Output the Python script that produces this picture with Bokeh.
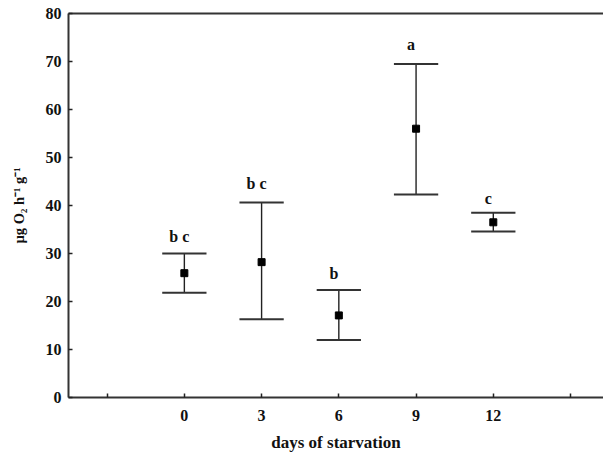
from bokeh.plotting import figure
from bokeh.models import (ColumnDataSource, FixedTicker, LinearAxis, Range1d)
from bokeh.core.properties import value
from bokeh.embed import file_html
from bokeh.resources import INLINE

# data
days = [0, 3, 6, 9, 12]
means = [25.9, 28.2, 17.1, 56.0, 36.5]
upper = [30.0, 40.6, 22.4, 69.5, 38.5]
lower = [21.8, 16.3, 12.0, 42.3, 34.6]
letters = ["b c", "b c", "b", "a", "c"]
letter_y = [33.6, 44.5, 25.9, 73.6, 41.5]
x_ticks = [-3, 0, 3, 6, 9, 12, 15]
y_ticks = [0, 10, 20, 30, 40, 50, 60, 70, 80]

FONT = "Liberation Serif"
cap_half = 0.86

src = ColumnDataSource(dict(
    x=days, m=means, up=upper, lo=lower,
    cx0=[d - cap_half for d in days], cx1=[d + cap_half for d in days],
    lab=letters, ly=letter_y,
))

p = figure(width=603, height=457, output_backend="svg", toolbar_location=None,
           x_range=Range1d(-4.5, 16.28), y_range=Range1d(0, 80),
           min_border_left=68, min_border_right=0, min_border_top=13,
           min_border_bottom=60)
p.outline_line_color = None
p.grid.visible = False
p.background_fill_color = "white"

# error bars
p.segment(x0="x", y0="lo", x1="x", y1="up", source=src,
          line_color="#222222", line_width=1.4)
p.segment(x0="cx0", y0="up", x1="cx1", y1="up", source=src,
          line_color="#333333", line_width=2)
p.segment(x0="cx0", y0="lo", x1="cx1", y1="lo", source=src,
          line_color="#333333", line_width=2)
p.scatter(x="x", y="m", source=src, marker="square", size=7,
          fill_color="black", line_color="black")

p.text(x="x", y="ly", text="lab", source=src, text_align="center",
       text_baseline="alphabetic", x_offset=-5,
       text_font=value(FONT), text_font_style="bold",
       text_font_size="16px", text_color="#111111")

# axes
for ax in (p.xaxis[0], p.yaxis[0]):
    ax.axis_line_width = 2
    ax.axis_line_color = "#333333"
    ax.major_tick_in = 4
    ax.major_tick_out = 0
    ax.major_tick_line_color = "#222222"
    ax.major_tick_line_width = 1.5
    ax.minor_tick_line_color = None
    ax.major_label_text_font = FONT
    ax.major_label_text_font_style = "bold"
    ax.major_label_text_font_size = "16px"
    ax.major_label_text_color = "#111111"
    ax.axis_label_text_font = FONT
    ax.axis_label_text_font_style = "bold"
    ax.axis_label_text_color = "#111111"

p.xaxis.ticker = FixedTicker(ticks=x_ticks)
p.xaxis.major_label_overrides = {-3: "", 15: ""}
p.xaxis.major_label_standoff = 12
p.xaxis.axis_label = "days of starvation"
p.xaxis.axis_label_standoff = 9
p.xaxis.axis_label_text_font_size = "17px"

p.yaxis.ticker = FixedTicker(ticks=y_ticks)
p.yaxis.major_label_standoff = 7
p.yaxis.axis_label = "µg O₂ h⁻¹ g⁻¹"
p.yaxis.axis_label_standoff = 16
p.yaxis.axis_label_text_font_size = "14.5px"

top = LinearAxis(axis_line_width=2, axis_line_color="#333333",
                 major_tick_line_color=None, minor_tick_line_color=None,
                 major_label_text_font_size="0px", major_label_standoff=0,
                 ticker=FixedTicker(ticks=[]))
p.add_layout(top, "above")

open("out.html", "w").write(file_html(p, INLINE))
